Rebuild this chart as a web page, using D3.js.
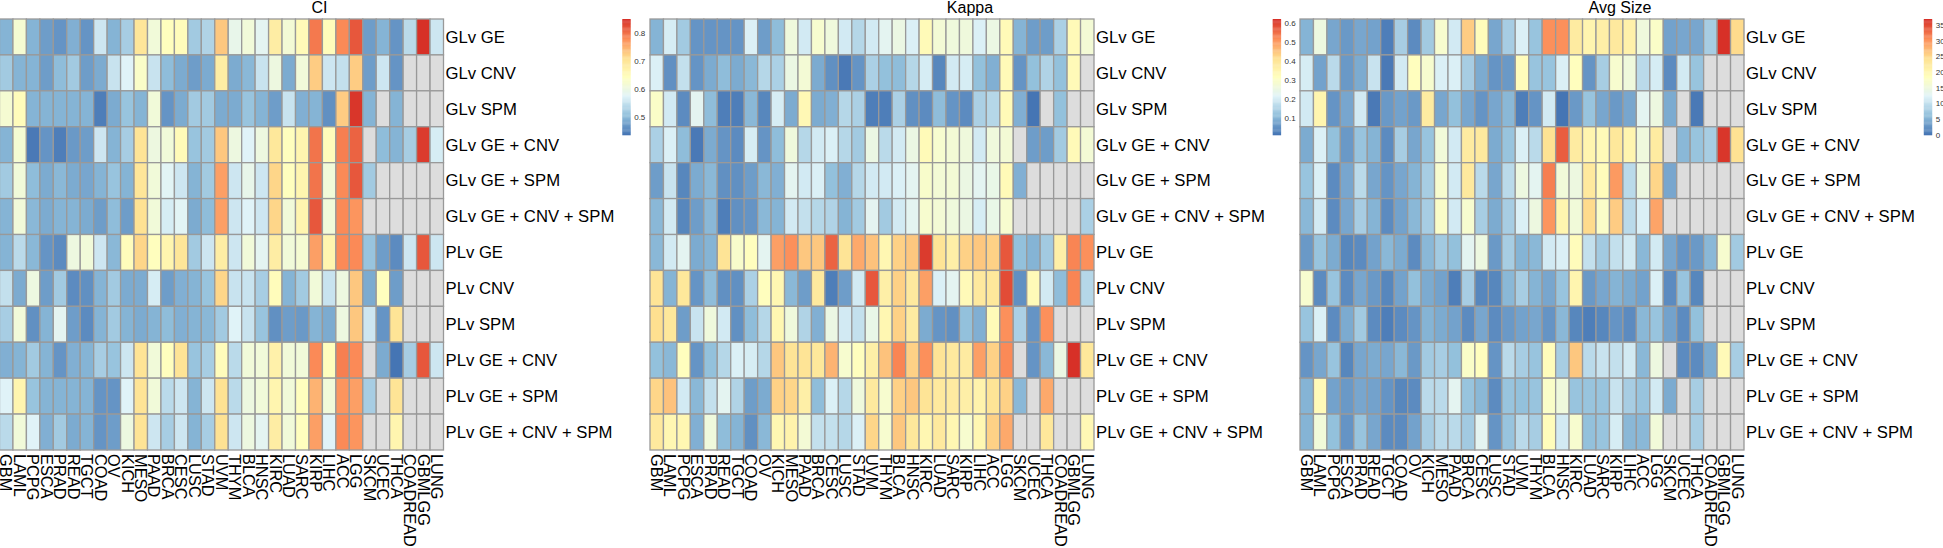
<!DOCTYPE html>
<html><head><meta charset="utf-8">
<script src="https://cdn.jsdelivr.net/npm/d3@7"></script>
<style>body{margin:0;background:#fff}svg{display:block}</style>
</head><body>
<svg id="chart" width="1943" height="548"></svg>
<script>
// ---------------- data ----------------
const cancerTypes = ["GBM","LAML","PCPG","ESCA","PRAD","READ","TGCT","COAD","OV","KICH","MESO","PAAD","BRCA","CESC","LUSC","STAD","UVM","THYM","BLCA","HNSC","KIRC","LUAD","SARC","KIRP","LIHC","ACC","LGG","SKCM","UCEC","THCA","COADREAD","GBMLGG","LUNG"];
const rowLabels = ["GLv GE","GLv CNV","GLv SPM","GLv GE + CNV","GLv GE + SPM","GLv GE + CNV + SPM","PLv GE","PLv CNV","PLv SPM","PLv GE + CNV","PLv GE + SPM","PLv GE + CNV + SPM"];
const panelTitles = ["CI","Kappa","Avg Size"];

const ciValues = [
[0.498,0.622,0.498,0.477,0.469,0.490,0.469,0.560,0.498,0.527,0.697,0.610,0.643,0.651,0.519,0.535,0.734,0.593,0.610,0.581,0.684,0.618,0.655,0.796,0.651,0.780,0.817,0.477,0.498,0.469,0.540,0.850,0.560],
[0.519,0.494,0.498,0.477,0.506,0.519,0.477,0.486,0.552,0.573,0.631,0.552,0.506,0.486,0.477,0.486,0.684,0.486,0.502,0.552,0.602,0.486,0.610,0.726,0.560,0.548,0.726,0.477,0.560,0.469,null,null,null],
[0.622,0.651,0.498,0.498,0.494,0.498,0.494,0.448,0.486,0.511,0.494,0.610,0.469,0.486,0.519,0.519,0.486,0.486,0.511,0.494,0.477,0.552,0.490,0.498,0.461,0.726,0.842,0.498,null,0.498,null,null,null],
[0.498,0.622,0.444,0.469,0.448,0.473,0.477,0.560,0.494,0.527,0.705,0.602,0.610,0.655,0.511,0.519,0.734,0.602,0.573,0.602,0.693,0.643,0.664,0.800,0.651,0.788,0.809,null,0.506,0.494,0.527,0.838,0.568],
[0.519,0.610,0.506,0.486,0.502,0.486,0.482,0.494,0.511,0.498,0.697,0.614,0.577,0.560,0.498,0.519,0.767,0.560,0.593,0.560,0.718,0.643,0.664,0.800,0.614,0.780,0.821,0.519,null,null,null,null,null],
[0.498,0.614,0.502,0.486,0.494,0.498,0.486,0.477,0.506,0.477,0.709,0.610,0.568,0.577,0.486,0.506,0.767,0.560,0.573,0.560,0.718,0.610,0.664,0.817,0.614,0.780,0.775,null,null,null,null,null,null],
[0.498,0.540,0.502,0.469,0.457,0.602,0.610,0.560,0.502,0.651,0.718,0.643,0.664,0.697,0.519,0.560,0.684,0.560,0.610,0.581,0.684,0.614,0.622,0.767,0.664,0.780,0.780,0.511,0.477,0.457,0.560,0.821,0.560],
[0.548,0.486,0.602,0.477,0.519,0.457,0.461,0.498,0.519,0.486,0.486,0.568,0.477,0.490,0.498,0.511,0.718,0.552,0.552,0.527,0.651,0.498,0.519,0.610,0.552,0.602,0.734,0.486,0.643,0.477,null,null,null],
[0.527,0.614,0.461,0.498,0.581,0.477,0.457,0.498,0.519,0.498,0.486,0.494,0.506,0.490,0.498,0.502,0.519,0.573,0.552,0.511,0.461,0.477,0.473,0.498,0.486,0.602,0.734,0.560,0.469,0.705,null,null,null],
[0.490,0.498,0.519,0.494,0.465,0.490,0.498,0.527,0.511,0.560,0.705,0.614,0.643,0.705,0.511,0.527,0.651,0.540,0.610,0.610,0.676,0.610,0.614,0.780,0.643,0.788,0.780,null,0.486,0.436,0.527,0.821,0.560],
[0.573,0.664,0.511,0.498,0.498,0.494,0.498,0.469,0.469,0.573,0.705,0.610,0.540,0.560,0.494,0.560,0.709,0.540,0.602,0.610,0.664,0.610,0.643,0.747,0.614,0.775,0.767,0.527,null,0.705,null,null,null],
[0.540,0.610,0.573,0.490,0.519,0.486,0.494,0.465,0.477,0.602,0.705,0.560,0.527,0.560,0.498,0.527,0.709,0.560,0.602,0.581,0.684,0.610,0.643,0.767,0.573,0.780,0.775,null,null,0.664,null,null,null]
];

const kappaValues = [
[0.096,0.206,0.133,0.053,0.059,0.059,0.053,0.212,0.071,0.114,0.267,0.194,0.286,0.267,0.194,0.163,0.194,0.225,0.255,0.212,0.329,0.274,0.267,0.267,0.212,0.255,0.329,0.096,0.071,0.071,0.145,0.329,0.274],
[0.212,0.047,0.176,0.053,0.084,0.114,0.084,0.102,0.163,0.145,0.255,0.274,0.084,0.047,0.022,0.053,0.145,0.120,0.114,0.163,0.206,0.035,0.194,0.206,0.120,0.090,0.329,0.053,0.120,0.151,0.120,0.329,null],
[0.304,0.194,0.041,0.225,0.114,0.028,0.028,0.102,0.035,0.206,0.084,0.335,0.084,0.090,0.163,0.145,0.028,0.028,0.145,0.047,0.041,0.114,0.059,0.041,0.145,0.163,0.329,0.090,0.010,null,0.120,null,null],
[0.145,0.212,0.114,0.022,0.084,0.053,0.041,0.206,0.059,0.114,0.267,0.163,0.194,0.212,0.163,0.133,0.255,0.169,0.194,0.255,0.329,0.286,0.274,0.267,0.194,0.267,0.274,null,0.071,0.071,0.133,0.329,0.274],
[0.071,0.182,0.035,0.084,0.108,0.047,0.047,0.071,0.102,0.090,0.225,0.194,0.212,0.120,0.090,0.163,0.194,0.194,0.212,0.225,0.298,0.274,0.274,0.255,0.225,0.243,0.329,0.090,null,null,null,null,null],
[0.102,0.194,0.035,0.071,0.102,0.028,0.047,0.059,0.102,0.096,0.194,0.176,0.163,0.151,0.096,0.133,0.225,0.133,0.194,0.225,0.286,0.274,0.267,0.255,0.206,0.243,0.286,null,null,null,null,null,0.145],
[0.102,0.194,0.225,0.084,0.096,0.408,0.298,0.317,0.225,0.500,0.513,0.451,0.451,0.562,0.408,0.488,0.457,0.347,0.439,0.451,0.605,0.408,0.366,0.439,0.451,0.439,0.574,0.120,0.096,0.133,0.366,0.531,0.513],
[0.408,0.096,0.396,0.059,0.114,0.047,0.047,0.145,0.317,0.347,0.102,0.071,0.390,0.028,0.071,0.194,0.574,0.366,0.439,0.390,0.500,0.212,0.225,0.329,0.390,0.396,0.592,0.047,0.329,0.194,0.114,0.531,0.163],
[0.415,0.396,0.071,0.182,0.267,0.194,0.047,0.114,0.163,0.347,0.267,0.151,0.090,0.255,0.194,0.176,0.243,0.347,0.439,0.378,0.084,0.059,0.047,0.120,0.090,0.329,0.513,0.145,0.059,0.513,null,null,null],
[0.120,0.108,0.317,0.059,0.120,0.163,0.212,0.206,0.163,0.451,0.408,0.408,0.396,0.470,0.286,0.317,0.366,0.457,0.531,0.439,0.513,0.408,0.390,0.378,0.500,0.439,0.519,null,0.053,0.102,0.255,0.623,0.396],
[0.427,0.457,0.194,0.102,0.176,0.225,0.151,0.071,0.084,0.439,0.427,0.366,0.114,0.212,0.163,0.267,0.390,0.286,0.439,0.451,0.408,0.390,0.378,0.366,0.359,0.408,0.439,0.102,null,0.488,null,null,null],
[0.390,0.347,0.347,0.090,0.267,0.114,0.096,0.047,0.102,0.347,0.359,0.274,0.176,0.176,0.163,0.212,0.427,0.286,0.451,0.396,0.347,0.390,0.347,0.286,0.347,0.439,0.488,null,null,0.396,null,null,0.335]
];

const avgSizeValues = [
[5.2,14.8,4.4,3.0,4.4,3.7,1.1,8.1,2.2,7.4,16.7,11.1,25.9,19.2,4.4,8.1,12.2,6.7,30.7,30.7,22.2,20.4,21.5,22.9,21.1,15.5,17.4,3.7,4.4,4.4,8.1,37.0,24.8],
[11.8,3.7,9.3,3.0,4.8,10.4,0.7,11.1,18.5,16.7,12.2,12.2,8.1,4.8,2.6,3.0,19.2,6.7,6.7,12.2,18.5,2.6,8.1,16.7,15.5,9.3,11.8,2.2,11.1,6.7,null,null,null],
[11.1,20.4,2.6,4.4,11.1,0.7,3.0,3.7,3.0,22.2,4.4,6.3,4.4,2.6,4.4,5.6,1.1,2.6,11.1,0.0,3.0,6.7,4.4,3.0,4.4,13.0,14.8,4.8,null,0.7,null,null,null],
[4.8,12.2,6.3,3.0,6.7,5.2,1.9,8.1,4.4,6.7,15.9,11.1,22.2,22.9,4.8,6.7,12.2,9.3,24.1,34.0,22.2,20.4,19.6,23.3,20.7,15.5,22.2,null,5.6,6.7,8.1,36.3,24.1],
[6.7,12.2,1.9,4.4,9.3,4.4,2.6,4.4,5.2,8.1,16.7,11.1,22.9,9.3,4.4,9.3,14.8,13.0,31.5,15.9,14.8,22.9,19.2,29.6,9.3,14.8,25.2,4.4,null,null,null,null,null],
[5.6,11.1,2.2,4.4,8.1,5.2,2.2,3.7,5.6,8.1,17.4,11.1,16.7,8.1,4.8,8.1,12.2,14.8,30.3,20.4,15.9,24.8,17.4,25.9,9.3,12.2,28.9,null,null,null,null,null,null],
[3.0,6.7,4.8,1.5,2.2,3.7,5.6,4.8,2.2,5.6,7.4,6.3,13.0,14.8,3.0,8.1,5.2,5.6,11.1,12.2,19.2,10.0,7.4,10.0,11.1,5.6,11.1,4.4,2.6,3.0,5.6,16.7,7.4],
[16.7,2.2,6.7,2.2,4.4,3.0,1.5,3.7,6.3,4.8,3.7,1.1,8.1,1.5,1.5,5.6,8.1,5.2,4.4,6.7,20.4,3.0,4.4,5.2,4.8,3.7,12.2,1.9,6.7,1.5,null,null,null],
[6.7,12.2,2.2,4.8,7.4,2.2,1.1,2.2,2.6,5.2,4.8,3.7,2.2,4.4,2.2,3.0,3.7,4.4,2.6,5.6,1.5,1.1,1.5,2.6,2.2,5.6,6.7,3.7,2.2,6.3,null,null,null],
[2.6,4.4,6.7,1.5,4.4,4.8,4.4,5.6,3.0,7.4,8.1,6.3,17.4,18.5,2.6,9.3,8.1,6.7,19.2,8.1,26.6,9.3,10.4,10.0,11.1,5.6,14.8,null,2.2,1.9,4.8,19.6,8.1],
[5.2,19.6,3.7,3.0,4.4,3.7,2.6,1.5,2.2,9.3,9.3,13.0,6.7,5.6,2.2,6.7,6.3,6.7,17.4,15.5,6.7,6.7,6.7,10.4,8.1,6.7,11.1,4.8,null,8.1,null,null,null],
[5.2,15.9,6.3,2.6,6.7,4.4,2.2,2.2,3.7,8.1,9.3,9.3,7.4,13.0,2.6,6.7,9.3,8.1,19.2,11.1,16.7,6.3,6.7,11.8,5.6,5.6,15.9,null,null,8.1,null,null,null]
];

const ciTicks = [0.5, 0.6, 0.7, 0.8];
const kappaTicks = [0.1, 0.2, 0.3, 0.4, 0.5, 0.6];
const avgSizeTicks = [0, 5, 10, 15, 20, 25, 30, 35];

// ---------------- drawing ----------------
const palette = ["#4575B4","#91BFDB","#E0F3F8","#FFFFBF","#FEE090","#FC8D59","#D73027"];
const naColor = "#DDDDDD";
const FONT = "'Liberation Sans', Arial, Helvetica, sans-serif";
const svg = d3.select("#chart");
svg.append("rect").attr("width",1943).attr("height",548).attr("fill","#fff");

const gridTop = 19, gridBottom = 450, gridWidth = 444;
const legendTop = 19, legendBottom = 135, legendWidth = 8.4;

const panels = [
  {title: panelTitles[0], values: ciValues, ticks: ciTicks, left: -0.5, legendLeft: 622.3, fmt: d3.format(".1f")},
  {title: panelTitles[1], values: kappaValues, ticks: kappaTicks, left: 650, legendLeft: 1272.7, fmt: d3.format(".1f")},
  {title: panelTitles[2], values: avgSizeValues, ticks: avgSizeTicks, left: 1300, legendLeft: 1923.8, fmt: d3.format("d")}
];

const ramp = d3.scaleLinear().domain(d3.range(7).map(i => i / 6)).range(palette).interpolate(d3.interpolateRgb);
const binColors = d3.range(100).map(i => ramp(i / 99));

panels.forEach(p => {
  const flat = p.values.flat().filter(v => v != null);
  const [mn, mx] = d3.extent(flat);
  const color = d3.scaleQuantize().domain([mn, mx]).range(binColors);
  const x = d3.scaleBand().domain(cancerTypes).range([p.left, p.left + gridWidth]);
  const y = d3.scaleBand().domain(rowLabels).range([gridTop, gridBottom]);
  const g = svg.append("g");

  const cells = rowLabels.flatMap((r, i) => cancerTypes.map((c, j) => ({r, c, v: p.values[i][j]})));
  g.selectAll("rect.cell").data(cells).join("rect")
    .attr("class", "cell")
    .attr("x", d => x(d.c)).attr("y", d => y(d.r))
    .attr("width", x.bandwidth()).attr("height", y.bandwidth())
    .attr("fill", d => d.v == null ? naColor : color(d.v))
    .attr("stroke", "#999999").attr("stroke-width", 1.3);

  // row labels
  g.selectAll("text.row").data(rowLabels).join("text")
    .attr("class", "row")
    .attr("x", p.left + gridWidth + 2)
    .attr("y", d => y(d) + y.bandwidth() / 2)
    .attr("dy", "0.35em")
    .attr("font-family", FONT).attr("font-size", "16.7px").attr("fill", "#000")
    .text(d => d);

  // column labels (read top to bottom)
  g.selectAll("text.col").data(cancerTypes).join("text")
    .attr("class", "col")
    .attr("transform", d => `translate(${x(d) + x.bandwidth() / 2},454) rotate(90)`)
    .attr("dy", "0.35em")
    .attr("font-family", FONT).attr("font-size", "16.4px").attr("fill", "#000")
    .text(d => d);

  // title
  g.append("text")
    .attr("x", p.left + 320).attr("y", 12.5)
    .attr("text-anchor", "middle")
    .attr("font-family", FONT).attr("font-size", "16px").attr("fill", "#000")
    .text(p.title);

  // legend
  const ly = d3.scaleLinear().domain([mn, mx]).range([legendBottom, legendTop]);
  const step = (mx - mn) / 100;
  g.selectAll("rect.leg").data(binColors).join("rect")
    .attr("class", "leg")
    .attr("x", p.legendLeft)
    .attr("y", (d, k) => ly(mn + (k + 1) * step))
    .attr("width", legendWidth)
    .attr("height", (d, k) => ly(mn + k * step) - ly(mn + (k + 1) * step) + 0.3)
    .attr("fill", d => d);
  g.selectAll("text.tick").data(p.ticks).join("text")
    .attr("class", "tick")
    .attr("x", p.legendLeft + legendWidth + 3.5)
    .attr("y", d => ly(d))
    .attr("dy", "0.35em")
    .attr("font-family", FONT).attr("font-size", "8px").attr("fill", "#333")
    .text(d => p.fmt(d));
});
</script>
</body></html>
